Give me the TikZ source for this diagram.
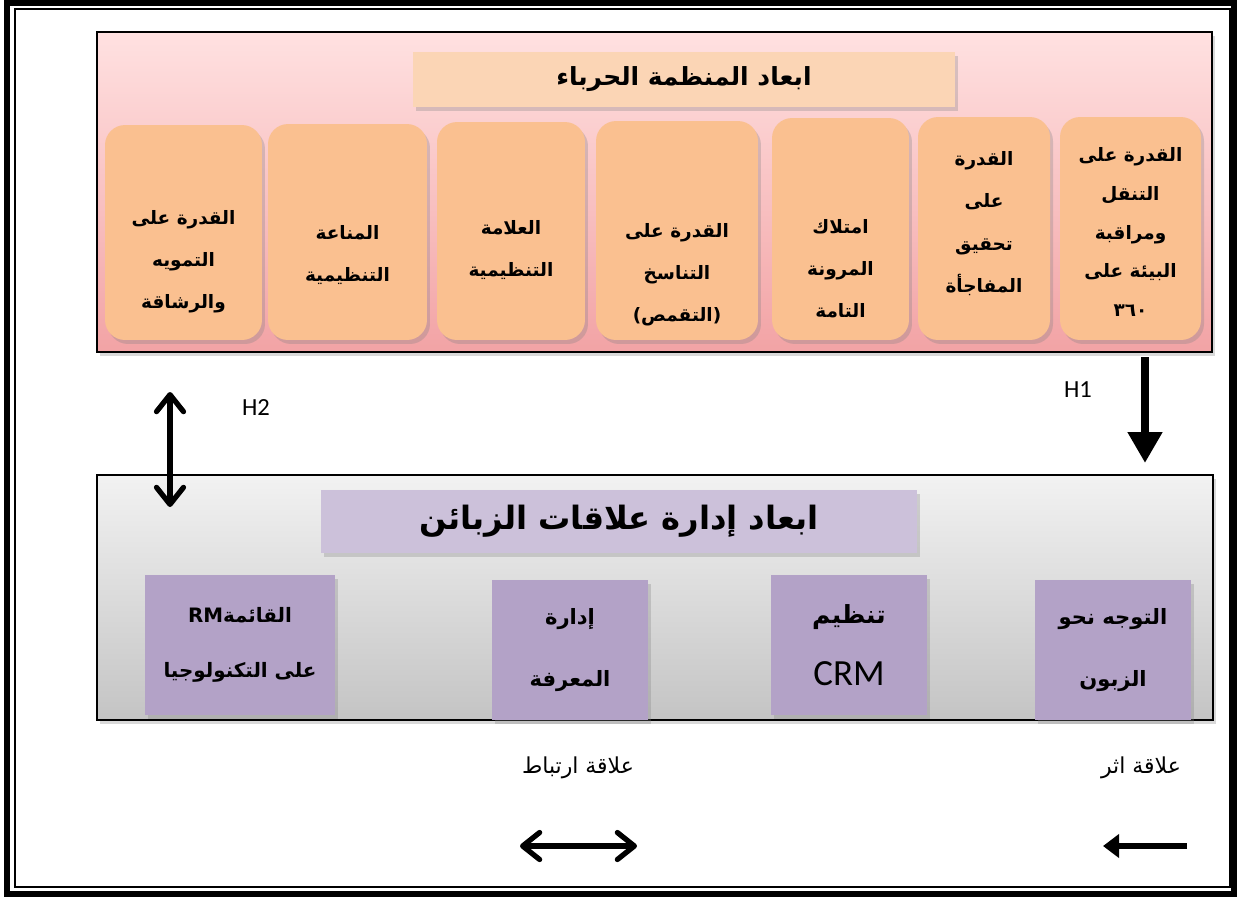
\documentclass[tikz,border=0pt]{standalone}
\usepackage{fontspec}
\usepackage{tikz}
\usetikzlibrary{arrows.meta, shadows}
\newfontfamily\arabicfont[Script=Arabic]{DejaVu Sans}
\newfontfamily\latinfont{Carlito}
\TeXXeTstate=1

\definecolor{pinktop}{HTML}{FFE1E1}
\definecolor{pinkbottom}{HTML}{F2A3A5}
\definecolor{peach}{HTML}{FAC090}
\definecolor{peachlight}{HTML}{FBD5B5}
\definecolor{graytop}{HTML}{F2F2F2}
\definecolor{graybottom}{HTML}{C4C4C4}
\definecolor{lilac}{HTML}{B3A2C7}
\definecolor{lilaclight}{HTML}{CCC1DA}

\begin{document}
\begin{tikzpicture}[
    x = 0.02cm, y = -0.02cm,
    shadowed/.style = {drop shadow={opacity=0.3, shadow xshift=0.06cm, shadow yshift=-0.08cm}},
    panel/.style = {draw, inner sep=0pt, shadowed},
    heading/.style = {inner sep=0pt, shadowed, font=\arabicfont\bfseries\fontsize{#1}{#1}\selectfont},
    dim/.style = {fill=peach, rounded corners=0.4cm, inner sep=0pt, shadowed},
    dimtext/.style = {align=center, font=\arabicfont\bfseries\fontsize{10.5}{24}\selectfont},
    crmdim/.style = {fill=lilac, minimum width=3.12cm, minimum height=2.8cm, inner sep=0pt, align=center, shadowed, font=\arabicfont\bfseries\fontsize{12}{35}\selectfont},
    hyp/.style = {font=\latinfont\fontsize{14}{16}\selectfont},
    legendtext/.style = {font=\arabicfont\fontsize{12.5}{14}\selectfont},
    link/.style = {line width=3pt, {Straight Barb[round, length=3.4mm, width=5.4mm]}-{Straight Barb[round, length=3.4mm, width=5.4mm]}},
    effect/.style = {-{Triangle[#1]}},
    ]
    \useasboundingbox (0,0) rectangle (1237,897);
    % double frame
    \draw[line width=3.4pt] (7,3) rectangle (1234,894);
    \draw[line width=0.7pt] (15,9) rectangle (1230,887);

    % chameleon organisation
    \node[panel, line width=1.4pt, top color=pinktop, bottom color=pinkbottom,
        minimum width=22.3cm, minimum height=6.4cm] (chameleon) at (654.5,192) {};
    \node[heading=14.2, fill=peachlight, minimum width=10.84cm, minimum height=1.1cm] (chtitle) at (684,79.5) {\beginR ابعاد المنظمة الحرباء\endR};
    \node[dim, minimum width=3.14cm, minimum height=4.3cm,
        label={[dimtext, yshift=-0.59cm]center:{\beginR القدرة على\endR\\ \beginR التمويه\endR\\ \beginR والرشاقة\endR}}] (d1) at (183.5,232.5) {};
    \node[dim, minimum width=3.18cm, minimum height=4.32cm,
        label={[dimtext, yshift=-0.46cm]center:{\beginR المناعة\endR\\ \beginR التنظيمية\endR}}] (d2) at (347.5,232) {};
    \node[dim, minimum width=2.96cm, minimum height=4.36cm,
        label={[dimtext, yshift=-0.38cm]center:{\beginR العلامة\endR\\ \beginR التنظيمية\endR}}] (d3) at (511,231) {};
    \node[dim, minimum width=3.24cm, minimum height=4.38cm,
        label={[dimtext, yshift=-0.89cm]center:{\beginR القدرة على\endR\\ \beginR التناسخ\endR\\ \beginR (التقمص)\endR}}] (d4) at (677,230.5) {};
    \node[dim, minimum width=2.74cm, minimum height=4.44cm,
        label={[dimtext, yshift=-0.8cm]center:{\beginR امتلاك\endR\\ \beginR المرونة\endR\\ \beginR التامة\endR}}] (d5) at (840.5,229) {};
    \node[dim, minimum width=2.64cm, minimum height=4.46cm,
        label={[dimtext, yshift=0.1cm]center:{\beginR القدرة\endR\\ \beginR على\endR\\ \beginR تحقيق\endR\\ \beginR المفاجأة\endR}}] (d6) at (984,228.5) {};
    \node[dim, minimum width=2.82cm, minimum height=4.46cm,
        label={[dimtext, font=\arabicfont\bfseries\fontsize{10.5}{22}\selectfont, yshift=-0.07cm]center:{\beginR القدرة على\endR\\ \beginR التنقل\endR\\ \beginR ومراقبة\endR\\ \beginR البيئة على\endR\\ \beginR ٣٦٠\endR}}] (d7) at (1130.5,228.5) {};

    % customer relationship management
    \node[panel, line width=0.9pt, top color=graytop, bottom color=graybottom,
        minimum width=22.32cm, minimum height=4.9cm] (crm) at (655,597.5) {};
    \node[heading=18.3, fill=lilaclight, minimum width=11.92cm, minimum height=1.26cm] (crmtitle) at (619,521.5) {\beginR ابعاد إدارة علاقات الزبائن\endR};
    \node[crmdim, minimum width=3.8cm, font=\arabicfont\bfseries\fontsize{11.3}{31}\selectfont] (c1) at (240,645) {\beginR القائمة\beginL RM\endL\endR\\ \beginR على التكنولوجيا\endR};
    \node[crmdim] (c2) at (570,650) {\beginR إدارة\endR\\ \beginR المعرفة\endR};
    \node[crmdim] (c3) at (849,645) {{\fontsize{14.2}{35}\selectfont\beginR تنظيم\endR}\\ {\latinfont\mdseries\fontsize{21}{35}\selectfont CRM}};
    \node[crmdim] (c4) at (1113,650) {\beginR التوجه نحو\endR\\ \beginR الزبون\endR};

    % hypotheses
    \coordinate (h1top) at (1145,357);
    \coordinate (h1bot) at (1145,463);
    \draw[effect={length=6.2mm, width=6.6mm}, line width=5pt] (h1top) -- (h1bot);
    \node[hyp] (lblH1) at (1078,390) {H1};
    \coordinate (h2top) at (170,392);
    \coordinate (h2bot) at (170,507);
    \draw[link] (h2top) -- (h2bot);
    \node[hyp] (lblH2) at (256,408) {H2};

    % legend
    \node[legendtext] (lblcorr) at (578,768) {\beginR علاقة ارتباط\endR};
    \node[legendtext] (lbleffect) at (1141,768) {\beginR علاقة اثر\endR};
    \coordinate (corrL) at (520,846);
    \coordinate (corrR) at (637,846);
    \draw[link] (corrL) -- (corrR);
    \coordinate (effR) at (1187,846);
    \coordinate (effL) at (1103,846);
    \draw[effect={length=3.2mm, width=4.6mm}, line width=3.2pt] (effR) -- (effL);
\end{tikzpicture}
\end{document}
